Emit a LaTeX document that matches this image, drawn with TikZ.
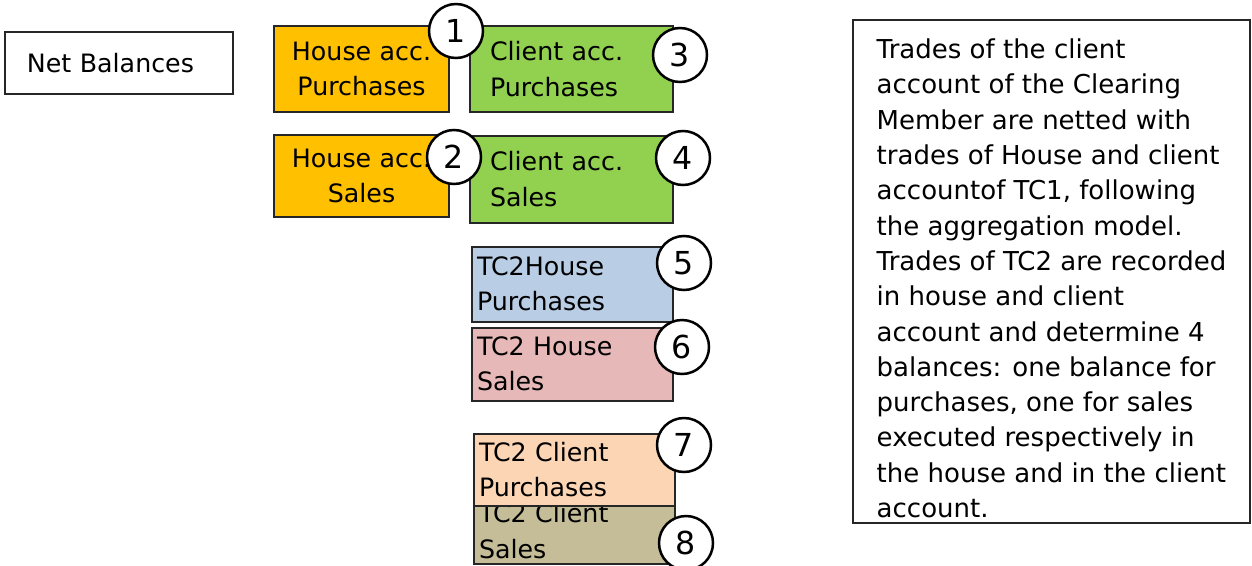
\documentclass[tikz,border=0pt]{standalone}
\usepackage{fontspec}
\setmainfont{DejaVu Sans}
\usepackage{tikz}
\usetikzlibrary{positioning}
\usepackage{xcolor}
\definecolor{houseorange}{HTML}{FFC000}
\definecolor{clientgreen}{HTML}{92D050}
\definecolor{tctwoblue}{HTML}{B9CDE5}
\definecolor{tctwopink}{HTML}{E6B9B8}
\definecolor{tctwopeach}{HTML}{FCD5B5}
\definecolor{tctwotan}{HTML}{C4BD97}

\begin{document}
\begin{tikzpicture}[x=0.2mm, y=-0.2mm,
    every node/.style = {draw=black!85, line width=0.4mm, rectangle, outer sep=0pt,
      font=\fontsize{14.4}{20.2}\selectfont},
    acc/.style = {minimum width=35mm, text width=31mm, inner xsep=2mm, align=center},
    cacc/.style = {minimum width=40.6mm, text width=32.6mm, inner xsep=4mm, align=left},
    tc/.style = {minimum width=40.2mm, text width=38.2mm, inner xsep=1mm, inner ysep=0pt, align=left},
    num/.style = {circle, draw=black, line width=0.5mm, fill=white, minimum size=10.8mm, inner sep=0pt,
      font=\fontsize{18}{20}\selectfont}
    ]
    \useasboundingbox (0,0) rectangle (1252,565);

    \node[minimum width=45.6mm, minimum height=12.4mm, text width=36.8mm, inner xsep=4.4mm, align=left] (net) at (119,63) {Net Balances};

    % house and client account of the clearing member
    \node[acc, fill=houseorange, minimum height=17.2mm] (hp) at (361.5,69) {House acc.\\Purchases};
    \node[acc, fill=houseorange, minimum height=16.4mm] (hs) [below=4.6mm of hp] {House acc.\\Sales};
    \node[cacc, fill=clientgreen, minimum height=17mm] (cp) [right=4.2mm of hp] {Client acc.\\Purchases};
    \node[cacc, fill=clientgreen, minimum height=17.4mm] (cs) [below=4.8mm of cp] {Client acc.\\Sales};

    % TC2 balances
    \node[tc, fill=tctwoblue, minimum height=15mm] (thp) [below=4.8mm of cs, xshift=0.2mm] {TC2House\\Purchases};
    \node[tc, fill=tctwopink, minimum height=14.6mm] (ths) [below=1.2mm of thp] {TC2 House\\Sales};
    \node[tc, fill=tctwotan, minimum height=13mm] (tcs) [below=19.6mm of ths, xshift=0.4mm] {TC2 Client\\Sales};
    \node[tc, fill=tctwopeach, minimum height=14.4mm] (tcp) [above=-1.4mm of tcs] {TC2 Client\\Purchases};

    \node[num] (n1) at (456,31) {1};
    \node[num] (n2) at (454,157) {2};
    \node[num] (n3) at (680,55) {3};
    \node[num] (n4) at (683,158) {4};
    \node[num] (n5) at (684,263) {5};
    \node[num] (n6) at (682,347) {6};
    \node[num] (n7) at (684,445) {7};
    \node[num] (n8) at (686,543) {8};

    \node[align=left, anchor=north west, minimum width=79.4mm, minimum height=100.6mm, inner xsep=4mm, inner ysep=0pt,
      font=\fontsize{14.8}{20.1}\selectfont] (note) at (853,20)
      {\rule{0pt}{19pt}Trades of the client\\
       account of the Clearing\\
       Member are netted with\\
       trades of House and client\\
       accountof TC1, following\\
       the aggregation model.\\
       Trades of TC2 are recorded\\
       in house and client\\
       account and determine 4\\
       balances: one balance for\\
       purchases, one for sales\\
       executed respectively in\\
       the house and in the client\\
       account.};
\end{tikzpicture}
\end{document}
